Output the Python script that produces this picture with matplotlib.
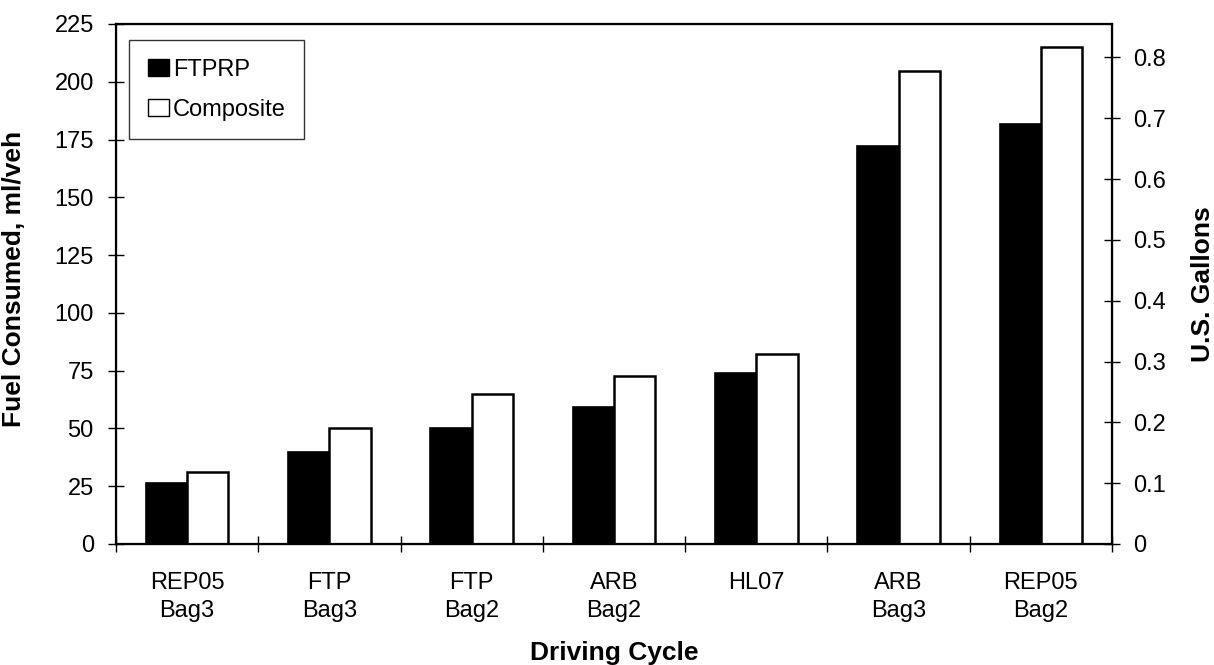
import numpy as np
import matplotlib
matplotlib.use("Agg")
import matplotlib.pyplot as plt
from matplotlib.patches import Patch

plt.rcParams["font.family"] = ["Liberation Sans", "DejaVu Sans"]

# ---------------------------------------------------------------------------
# Data
# ---------------------------------------------------------------------------
cycles = ["REP05\nBag3", "FTP\nBag3", "FTP\nBag2", "ARB\nBag2", "HL07", "ARB\nBag3", "REP05\nBag2"]
ftprp = [26.3, 39.8, 50.0, 59.1, 73.9, 172.2, 181.7]
composite = [31.3, 50.3, 64.8, 72.7, 82.2, 204.8, 215.2]

left_ticks = [0, 25, 50, 75, 100, 125, 150, 175, 200, 225]
right_ticks = [0, 0.1, 0.2, 0.3, 0.4, 0.5, 0.6, 0.7, 0.8]
right_labels = ["0", "0.1", "0.2", "0.3", "0.4", "0.5", "0.6", "0.7", "0.8"]

fig = plt.figure(figsize=(12.14, 6.65), dpi=100)
# axes box: x 116..1112 px, y 24..544 px
ax = fig.add_axes([116 / 1214, 1 - 544 / 665, 996 / 1214, 520 / 665])

x = np.arange(len(cycles)) + 0.5
w = 0.29
ax.bar(x - w / 2, ftprp, w, color="black", edgecolor="black", linewidth=1.2)
ax.bar(x + w / 2, composite, w, color="white", edgecolor="black", linewidth=1.8)

ax.set_xlim(0, len(cycles))
ax.set_ylim(0, 225)
ax.set_yticks(left_ticks)
ax.tick_params(axis="y", direction="inout", length=12, width=1, labelsize=17, pad=10)

# category labels centred, ticks at group boundaries
ax.set_xticks(np.arange(len(cycles) + 1))
ax.set_xticklabels([])
ax.set_xticks(x, minor=True)
ax.set_xticklabels(cycles, minor=True, fontsize=17, linespacing=1.35)
ax.tick_params(axis="x", which="major", direction="inout", length=11, width=1)
ax.tick_params(axis="x", which="minor", length=0, pad=20)

for s in ax.spines.values():
    s.set_linewidth(1.6)

ax.set_ylabel("Fuel Consumed, ml/veh", fontsize=19, fontweight="bold", va="center")
ax.yaxis.set_label_coords((14 - 116) / 996, 0.51)
ax.set_xlabel("Driving Cycle", fontsize=19, fontweight="bold", va="center")
ax.xaxis.set_label_coords(0.5, (544 - 653) / 520)

# secondary axis in gallons
ax2 = ax.twinx()
ax2.set_ylim(0, 0.855)
ax2.set_yticks(right_ticks)
ax2.set_yticklabels(right_labels)
ax2.tick_params(axis="y", direction="inout", length=12, width=1, labelsize=17, pad=9)
ax2.set_ylabel("U.S. Gallons", fontsize=19, fontweight="bold", va="center")
ax2.yaxis.set_label_coords((1203 - 116) / 996, 0.5)

handles = [
    Patch(facecolor="black", edgecolor="black", label="FTPRP"),
    Patch(facecolor="white", edgecolor="black", label="Composite"),
]
leg = ax.legend(
    handles=handles,
    loc="upper left",
    bbox_to_anchor=((129 - 116) / 996, (544 - 40) / 520),
    borderaxespad=0,
    fontsize=17,
    frameon=True,
    fancybox=False,
    edgecolor="black",
    handlelength=0.9,
    handleheight=0.75,
    handletextpad=0.15,
    labelspacing=0.75,
    borderpad=0.8,
)
leg.get_frame().set_linewidth(1.0)

fig.savefig("out.png", dpi=100)
